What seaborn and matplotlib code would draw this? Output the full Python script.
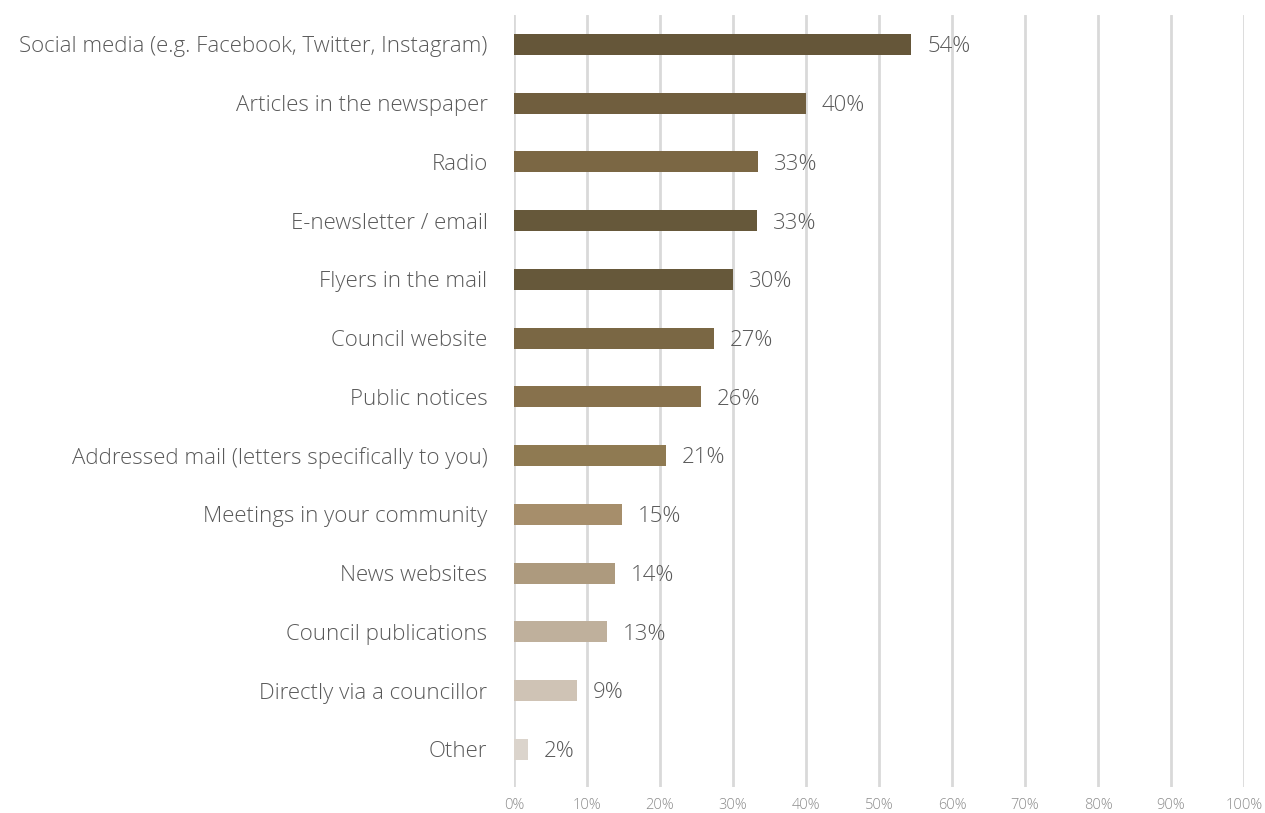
import matplotlib
matplotlib.use("Agg")
import matplotlib.pyplot as plt
import seaborn as sns
import pandas as pd
from matplotlib.ticker import MultipleLocator, FuncFormatter

channels = [
    "Social media (e.g. Facebook, Twitter, Instagram)",
    "Articles in the newspaper",
    "Radio",
    "E-newsletter / email",
    "Flyers in the mail",
    "Council website",
    "Public notices",
    "Addressed mail (letters specifically to you)",
    "Meetings in your community",
    "News websites",
    "Council publications",
    "Directly via a councillor",
    "Other",
]
shares = [54.4, 40.0, 33.4, 33.3, 30.0, 27.4, 25.6, 20.8, 14.8, 13.8, 12.7, 8.6, 1.9]
bar_colors = [
    "#655639", "#705e3e", "#7b6744", "#66583a", "#66583a", "#7a6744", "#87714c",
    "#8f7a52", "#a68e6b", "#ad9a7e", "#bfb09c", "#cfc3b5", "#dbd4cc",
]

df = pd.DataFrame({"channel": channels, "share": shares})

sns.set_style("white")
plt.rcParams["font.family"] = ["Open Sans", "DejaVu Sans"]

fig = plt.figure(figsize=(12.65, 8.13), dpi=100)
ax = fig.add_axes([0.4063, 0.032, 0.5771, 0.9495])

sns.barplot(
    data=df, x="share", y="channel", hue="channel", palette=bar_colors,
    orient="h", width=0.36, legend=False, ax=ax, saturation=1, linewidth=0,
)

ax.set_xlim(0, 100)
ax.set_ylim(len(channels) - 0.36, -0.5)
ax.xaxis.set_major_locator(MultipleLocator(10))
ax.xaxis.set_major_formatter(FuncFormatter(lambda v, _: f"{v:.0f}%"))
ax.grid(axis="x", color="#d9d9d9", linewidth=2)
ax.set_axisbelow(True)
for s in ax.spines.values():
    s.set_visible(False)
ax.set_xlabel("")
ax.set_ylabel("")
ax.tick_params(axis="x", length=0, pad=8, labelsize=10.5, labelcolor="#8c8c8c")
ax.tick_params(axis="y", length=0, pad=19, labelsize=16, labelcolor="#595959")
for lbl in ax.get_xticklabels() + ax.get_yticklabels():
    lbl.set_fontweight("light")

for i, v in enumerate(shares):
    ax.text(v + 2.2, i + 0.04, f"{v:.0f}%", va="center", ha="left",
            fontsize=16, color="#595959", fontweight="light")

fig.savefig("out.png", dpi=100)
